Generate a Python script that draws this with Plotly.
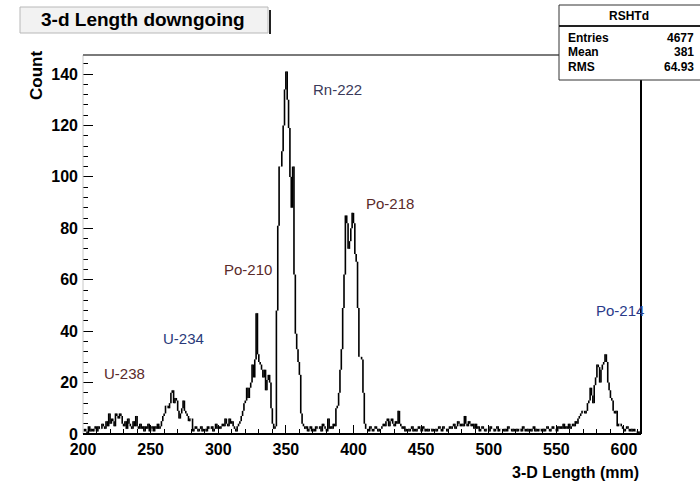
import numpy as np
import plotly.graph_objects as go

# Histogram RSHTd: 3-D track length of downgoing events, 1 mm bins from 200 mm
bin_start = 200
bin_width = 1
counts = [
    1, 2, 1, 0, 3, 1, 2, 1, 2, 3,        # 200
    1, 3, 2, 2, 4, 3, 2, 5, 3, 8,        # 210
    4, 6, 5, 3, 8, 7, 6, 8, 7, 4,        # 220
    3, 5, 2, 6, 4, 3, 2, 5, 3, 7,        # 230
    3, 2, 4, 2, 3, 1, 3, 2, 4, 1,        # 240
    2, 3, 1, 3, 2, 4, 2, 3, 5, 7,        # 250
    8, 11, 11, 10, 12, 16, 17, 12, 14, 13,  # 260
    9, 6, 8, 10, 13, 9, 8, 7, 5, 6,      # 270
    6, 1, 2, 3, 2, 1, 2, 3, 1, 2,        # 280
    2, 1, 3, 2, 2, 3, 1, 2, 4, 2,        # 290
    3, 2, 3, 4, 3, 6, 4, 3, 6, 4,        # 300
    5, 3, 2, 1, 3, 4, 5, 7, 9, 12,       # 310
    13, 18, 14, 18, 20, 27, 22, 29, 47, 31,  # 320
    28, 27, 25, 22, 25, 17, 21, 23, 20, 10,  # 330
    4, 2, 3, 48, 81, 104, 104, 110, 120, 134,  # 340
    141, 130, 119, 100, 88, 104, 62, 39, 33, 28,  # 350
    23, 8, 4, 3, 2, 3, 1, 2, 3, 1,       # 360
    2, 1, 3, 2, 2, 3, 1, 4, 3, 2,        # 370
    1, 6, 2, 3, 2, 4, 3, 10, 11, 16,     # 380
    25, 33, 49, 62, 85, 82, 72, 75, 80, 86,  # 390
    82, 70, 67, 49, 30, 30, 29, 16, 4, 2,  # 400
    2, 1, 3, 2, 1, 2, 3, 2, 1, 2,        # 410
    2, 3, 4, 3, 5, 6, 3, 5, 6, 4,        # 420
    3, 5, 4, 9, 4, 3, 2, 3, 1, 2,        # 430
    2, 1, 2, 3, 1, 2, 1, 2, 3, 2,        # 440
    1, 3, 2, 1, 2, 1, 2, 2, 1, 2,        # 450
    2, 1, 2, 3, 2, 1, 3, 2, 2, 1,        # 460
    2, 3, 2, 3, 4, 2, 3, 5, 4, 3,        # 470
    4, 3, 7, 4, 3, 5, 4, 3, 4, 2,        # 480
    4, 2, 3, 1, 2, 3, 2, 1, 2, 2,        # 490
    1, 3, 2, 2, 1, 2, 3, 1, 2, 2,        # 500
    2, 1, 2, 1, 3, 2, 2, 1, 2, 1,        # 510
    2, 1, 2, 2, 1, 3, 2, 1, 2, 1,        # 520
    2, 1, 2, 3, 1, 2, 1, 2, 2, 1,        # 530
    2, 1, 2, 3, 2, 1, 2, 3, 2, 2,        # 540
    1, 3, 2, 3, 2, 4, 2, 3, 2, 4,        # 550
    2, 3, 4, 3, 5, 4, 6, 7, 8, 9,        # 560
    9, 8, 9, 12, 13, 18, 15, 12, 19, 22,  # 570
    27, 26, 20, 25, 27, 28, 31, 28, 20, 17,  # 580
    14, 13, 9, 8, 9, 3, 4, 4, 3, 2,      # 590
    1, 2, 3, 2, 1, 2, 1, 2, 1, 1,        # 600
    0, 1, 0,                             # 610
]

# Peak labels: isotope name, x position (mm), y position (counts)
peak_names = ["U-238", "U-234", "Po-210", "Rn-222", "Po-218", "Po-214"]
peak_label_x = [231, 274, 322, 388, 427, 597]
peak_label_y = [23.5, 37, 64, 134, 89.5, 48]
peak_label_colors = ["#5a2a2a", "#2a3a7a", "#5a2a2a", "#3a3a5a", "#5a2a2a", "#2a3a8a"]

# Statistics box entries
stats_title = "RSHTd"
stats_names = ["Entries", "Mean", "RMS"]
stats_values = ["4677", "381", "64.93"]

x_range = [200, 612.6]
y_range = [0, 147.4]

edges = bin_start + np.arange(len(counts) + 1) * bin_width
step_x = edges.tolist()
step_y = counts + [counts[-1]]

# Vertical risers of the step outline
rise_x, rise_y = [], []
for i in range(1, len(counts)):
    rise_x += [edges[i], edges[i], None]
    rise_y += [counts[i - 1], counts[i], None]

FONT = "Liberation Sans, Arial, sans-serif"

fig = go.Figure()
fig.add_trace(go.Scatter(
    x=step_x, y=step_y, mode="lines", line_shape="hv",
    line=dict(color="#dadada", width=1), hoverinfo="skip", showlegend=False,
))
fig.add_trace(go.Scatter(
    x=rise_x, y=rise_y, mode="lines",
    line=dict(color="#000000", width=1.6), hoverinfo="skip", showlegend=False,
))

# Plot area in pixels
L, R, T, B = 83, 641, 55, 434
W, H = 700, 487
pw, ph = R - L, B - T


def px(xp):
    return (xp - L) / pw


def py(yp):
    return (B - yp) / ph


fig.update_layout(
    width=W, height=H,
    margin=dict(l=L, r=W - R, t=T, b=H - B),
    paper_bgcolor="white", plot_bgcolor="white",
    showlegend=False,
    font=dict(family=FONT, color="black"),
    xaxis=dict(
        range=x_range, showgrid=False, zeroline=False, showline=False,
        ticks="inside", ticklen=9, tickwidth=1.2, tickcolor="black",
        tick0=200, dtick=50,
        minor=dict(ticks="inside", ticklen=5, dtick=10, tickcolor="black", tickwidth=1),
        tickfont=dict(family=FONT, size=16, color="black", weight="bold"),
        ticklabelstandoff=4,
    ),
    yaxis=dict(
        range=y_range, showgrid=False, zeroline=False, showline=False,
        ticks="inside", ticklen=10, tickwidth=1.2, tickcolor="black",
        tick0=0, dtick=20,
        minor=dict(ticks="inside", ticklen=5, dtick=4, tickcolor="black", tickwidth=1),
        tickfont=dict(family=FONT, size=16, color="black", weight="bold"),
        ticklabelstandoff=4,
    ),
)

shapes = []
# Frame
shapes.append(dict(type="line", xref="paper", yref="paper", x0=0, x1=0, y0=0, y1=1,
                   line=dict(color="#c8c8c8", width=1)))
shapes.append(dict(type="line", xref="paper", yref="paper", x0=0, x1=1, y0=1, y1=1,
                   line=dict(color="#7a7a7a", width=2)))
shapes.append(dict(type="line", xref="paper", yref="paper", x0=1, x1=1, y0=0, y1=1,
                   line=dict(color="black", width=2)))
shapes.append(dict(type="line", xref="paper", yref="paper", x0=0, x1=1, y0=0, y1=0,
                   line=dict(color="black", width=2)))

# Title box with shadow
shapes.append(dict(type="rect", xref="paper", yref="paper",
                   x0=px(20), x1=px(268), y0=py(33), y1=py(7),
                   fillcolor="#f2f2f2", line=dict(color="#b8b8b8", width=1)))
shapes.append(dict(type="line", xref="paper", yref="paper",
                   x0=px(270), x1=px(270), y0=py(34), y1=py(10),
                   line=dict(color="#222222", width=2)))

# Statistics box
shapes.append(dict(type="rect", xref="paper", yref="paper",
                   x0=px(559), x1=px(705), y0=py(80), y1=py(5),
                   fillcolor="white", line=dict(color="#333333", width=1)))
shapes.append(dict(type="line", xref="paper", yref="paper",
                   x0=px(559), x1=px(705), y0=py(26), y1=py(26),
                   line=dict(color="#222222", width=2)))
fig.update_layout(shapes=shapes)

ann = []
ann.append(dict(text="<b>3-d Length downgoing</b>", xref="paper", yref="paper",
                x=px(143), y=py(20), xanchor="center", yanchor="middle", showarrow=False,
                font=dict(family=FONT, size=19, color="black")))
ann.append(dict(text="<b>3-D Length (mm)</b>", xref="paper", yref="paper",
                x=1, y=py(472), xanchor="right", yanchor="middle", showarrow=False,
                font=dict(family=FONT, size=16, color="black")))
ann.append(dict(text="<b>Count</b>", xref="paper", yref="paper", textangle=-90,
                x=px(36), y=py(76), xanchor="center", yanchor="middle", showarrow=False,
                font=dict(family=FONT, size=17, color="black")))

ann.append(dict(text="<b>" + stats_title + "</b>", xref="paper", yref="paper",
                x=px(629), y=py(16), xanchor="center", yanchor="middle", showarrow=False,
                font=dict(family=FONT, size=12, color="black")))
for i, (name, val) in enumerate(zip(stats_names, stats_values)):
    yy = py(38 + 14.5 * i)
    ann.append(dict(text="<b>" + name + "</b>", xref="paper", yref="paper",
                    x=px(566), y=yy, xanchor="left", yanchor="middle", showarrow=False,
                    font=dict(family=FONT, size=12, color="black")))
    ann.append(dict(text="<b>" + val + "</b>", xref="paper", yref="paper",
                    x=px(696), y=yy, xanchor="right", yanchor="middle", showarrow=False,
                    font=dict(family=FONT, size=12, color="black")))

for name, lx, ly, c in zip(peak_names, peak_label_x, peak_label_y, peak_label_colors):
    ann.append(dict(text=name, x=lx, y=ly, xref="x", yref="y", showarrow=False,
                    xanchor="center", yanchor="middle",
                    font=dict(family=FONT, size=15, color=c)))

fig.update_layout(annotations=ann)

fig.write_html("out.html")
